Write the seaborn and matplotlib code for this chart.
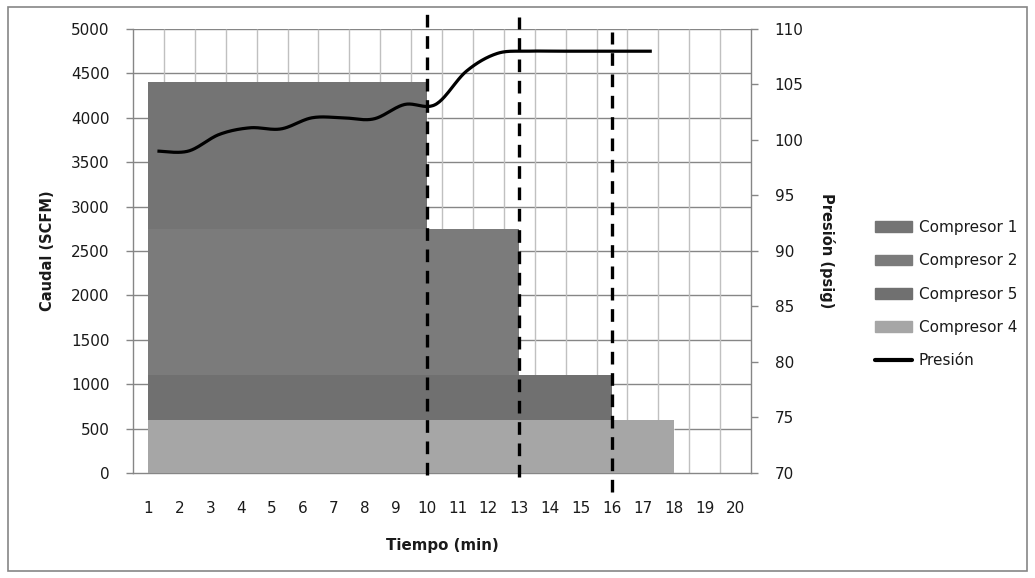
import numpy as np
import matplotlib
matplotlib.use("Agg")
import matplotlib.pyplot as plt
import seaborn as sns
from matplotlib.patches import Rectangle
from matplotlib.lines import Line2D

# ---------------- data ----------------
minutos = list(range(1, 21))
compresores = ["Compresor 1", "Compresor 2", "Compresor 5", "Compresor 4"]
caudal_compresor = [1650, 1650, 500, 600]      # SCFM aportado por cada compresor
fin_compresor = [10, 13, 16, 18]                # minuto en que se detiene
inicio_compresor = [1, 1, 1, 1]
colores = ["#747474", "#7b7b7b", "#707070", "#a6a6a6"]

tiempo_presion = list(range(1, 18))
presion = [99.0, 99.0, 100.5, 101.1, 101.0, 102.0, 102.0, 101.9, 103.2,
           103.2, 106.2, 107.8, 108.0, 108.0, 108.0, 108.0, 108.0]

cambios = [10, 13, 16]
cambios_ext = [(-0.005, 1.038), (-0.009, 1.027), (-0.043, 0.993)]

# ---------------- style ----------------
sns.set_theme(style="white")
plt.rcParams["font.family"] = ["DejaVu Sans"]
plt.rcParams["axes.grid"] = False
txt = "#1a1a1a"
axis_gray = "#868686"

fig = plt.figure(figsize=(10.35, 5.78), dpi=100)
fig.patches.append(Rectangle((8 / 1035, 1 - 571 / 578), (1027 - 8) / 1035, (571 - 7) / 578,
                             transform=fig.transFigure, fill=False,
                             edgecolor=axis_gray, lw=1.2))
ax = fig.add_axes([133 / 1035, 1 - 473 / 578, (751 - 133) / 1035, (473 - 29) / 578])

XMIN, XMAX, YMAX = 0.5, 20.5, 5000
ax.set_xlim(XMIN, XMAX)
ax.set_ylim(0, YMAX)
yt = np.arange(0, YMAX + 1, 500)
ax.set_yticks(yt)
ax.set_xticks(minutos)
xb = np.arange(0.5, 21, 1)
ax.set_xticks(xb, minor=True)

# stacked total height at a given x (derived from the compressor data)
def stack_top(x):
    return sum(q for q, a, b in zip(caudal_compresor, inicio_compresor, fin_compresor) if a <= x <= b)

x_start = min(inicio_compresor)

# gridlines only where they are not hidden by the areas
for v in yt[1:]:
    covered = [f for f in fin_compresor if stack_top(f) >= v]
    if covered:
        ax.hlines(v, XMIN, x_start, color=axis_gray, lw=1, zorder=1)
        ax.hlines(v, max(covered), XMAX, color=axis_gray, lw=1, zorder=1)
    else:
        ax.hlines(v, XMIN, XMAX, color=axis_gray, lw=1, zorder=1)
for b in xb[1:-1]:
    ax.vlines(b, stack_top(b), YMAX, color="#c0c0c0", lw=1, zorder=1)

# stacked areas (bottom first: Compresor 4, 5, 2, 1)
handles = {}
base_total = 0
for name, q, x0, x1, c in reversed(list(zip(compresores, caudal_compresor,
                                             inicio_compresor, fin_compresor, colores))):
    ax.fill_between([x0, x1], [base_total, base_total], [base_total + q, base_total + q],
                    color=c, lw=0, zorder=3)
    handles[name] = Rectangle((0, 0), 1, 1, color=c)
    base_total += q

ax.tick_params(axis="x", which="major", length=0, pad=20, labelsize=11, labelcolor=txt)
ax.tick_params(axis="x", which="minor", length=5, width=1, color=axis_gray, direction="out")
ax.tick_params(axis="y", which="major", length=5, width=1, color=axis_gray, direction="out",
               pad=12, labelsize=11, labelcolor=txt, left=True)
for s in ["left", "bottom", "right"]:
    ax.spines[s].set_color(axis_gray)
    ax.spines[s].set_linewidth(1)
ax.spines["top"].set_visible(False)

ax2 = ax.twinx()

# pressure line (smoothed, Excel style)
def smooth(xs, ys, n=24):
    P = np.column_stack([xs, ys]).astype(float)
    P = np.vstack([P[0], P, P[-1]])
    out = []
    t = np.linspace(0, 1, n, endpoint=False)[:, None]
    for i in range(1, len(P) - 2):
        p0, p1, p2, p3 = P[i - 1], P[i], P[i + 1], P[i + 2]
        m1 = (p2 - p0) / 2
        m2 = (p3 - p1) / 2
        h00 = 2 * t**3 - 3 * t**2 + 1
        h10 = t**3 - 2 * t**2 + t
        h01 = -2 * t**3 + 3 * t**2
        h11 = t**3 - t**2
        out.append(h00 * p1 + h10 * m1 + h01 * p2 + h11 * m2)
    out.append(P[-2][None, :])
    return np.vstack(out)

offset = 0.29
curve = smooth(np.array(tiempo_presion) + offset, presion)
sns.lineplot(x=curve[:, 0], y=curve[:, 1], ax=ax2, color="black", lw=2.3,
             sort=False, estimator=None, zorder=5, legend=False)
ax2.lines[-1].set_solid_capstyle("butt")

ax2.set_ylim(70, 110)
ax2.set_yticks(np.arange(70, 111, 5))
ax2.tick_params(axis="y", length=5, width=1, color=axis_gray, direction="out",
                pad=12, labelsize=11, labelcolor=txt, right=True)
ax2.grid(False)
for s in ax2.spines.values():
    s.set_visible(False)

# dashed vertical markers
for xc, (y0, y1) in zip(cambios, cambios_ext):
    ax2.axvline(xc, ymin=y0, ymax=y1, color="black", lw=2.4, ls=(0, (3.8, 2.6)),
                clip_on=False, zorder=6)

# labels
ax.set_ylabel("Caudal (SCFM)", fontsize=10.5, fontweight="bold", color=txt)
ax.yaxis.set_label_coords(-0.139, 0.5)
ax.yaxis.label.set_va("center")
ax2.set_ylabel("Presión (psig)", fontsize=10.5, fontweight="bold", color=txt, rotation=-90)
ax2.yaxis.set_label_coords(1.123, 0.5)
ax2.yaxis.label.set_va("center")
ax2.yaxis.label.set_ha("center")
ax.set_xlabel("Tiempo (min)", fontsize=10.8, fontweight="bold", color=txt)
ax.xaxis.set_label_coords(0.5, -0.164)
ax.xaxis.label.set_va("center")

# legend
leg_handles = [handles[n] for n in compresores] + [Line2D([0], [0], color="black", lw=3)]
leg_labels = compresores + ["Presión"]
fig.legend(leg_handles, leg_labels, loc="center left",
           bbox_to_anchor=(875 / 1035, 1 - 294.3 / 578), bbox_transform=fig.transFigure,
           frameon=False, fontsize=11, handlelength=2.4, handleheight=0.7,
           handletextpad=0.45, labelspacing=1.2, borderpad=0, borderaxespad=0,
           labelcolor=txt)

fig.savefig("out.png", dpi=100)
